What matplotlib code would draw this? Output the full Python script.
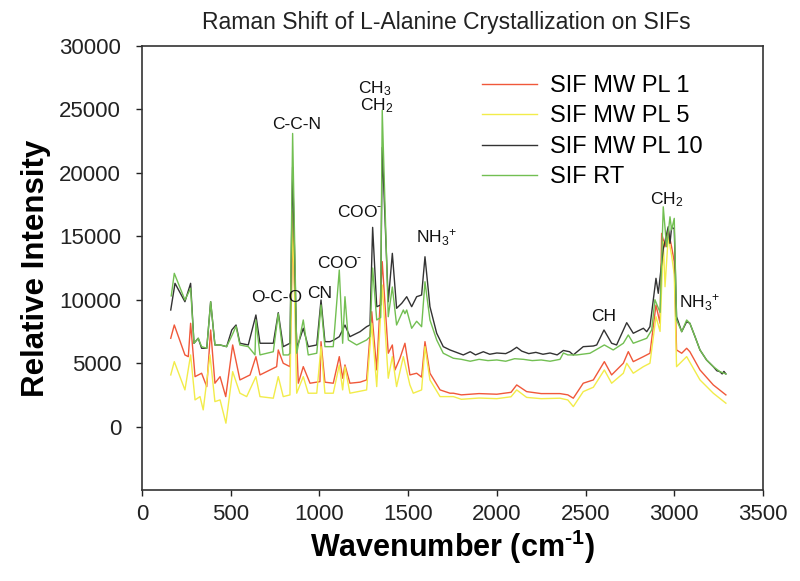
import matplotlib
matplotlib.use("Agg")
import matplotlib.pyplot as plt

plt.rcParams['font.family'] = ['Liberation Sans', 'DejaVu Sans']
plt.rcParams['mathtext.fontset'] = 'custom'
plt.rcParams['mathtext.rm'] = 'Liberation Sans'
plt.rcParams['mathtext.it'] = 'Liberation Sans:italic'
plt.rcParams['mathtext.bf'] = 'Liberation Sans:bold'

# SIF MW PL 10 (black)
wn_pl10 = [162, 186, 242, 274, 293, 317, 336, 365, 387, 411, 440, 477, 506, 530, 552,
           599, 642, 665, 740, 768, 796, 834, 849, 872, 909, 937, 985, 1009, 1031, 1060,
           1082, 1112, 1144, 1172, 1229, 1266, 1285, 1300, 1323, 1345, 1354, 1388, 1411,
           1435, 1464, 1492, 1520, 1548, 1576, 1595, 1623, 1661, 1698, 1736, 1811, 1850,
           1880, 1924, 1960, 2000, 2050, 2080, 2112, 2140, 2180, 2220, 2260, 2300, 2340,
           2375, 2410, 2431, 2487, 2544, 2563, 2604, 2647, 2675, 2732, 2769, 2826, 2845,
           2863, 2897, 2910, 2938, 2966, 2976, 2985, 3000, 3013, 3042, 3070, 3088, 3117,
           3145, 3182, 3220, 3240, 3257, 3270, 3280, 3291]
int_pl10 = [9189, 11291, 9843, 11291, 6567, 6961, 6173, 6173, 9843, 6433, 6433, 6299,
            7614, 8008, 6567, 6433, 8795, 6567, 6567, 8976, 6299, 6567, 20450, 6173, 7748,
            6299, 6433, 9976, 6693, 6693, 6827, 7087, 8000, 7087, 7480, 7874, 8008, 15700,
            9449, 9583, 22000, 9843, 13653, 9323, 9717, 10236, 9449, 10236, 10370, 13386,
            9449, 7354, 6299, 6039, 5646, 5900, 5650, 5900, 5700, 5800, 5750, 5950, 6250,
            5950, 5750, 5850, 5700, 5800, 5650, 6000, 5900, 5646, 6299, 6350, 6433, 7614,
            6567, 6433, 8189, 7354, 7748, 7480, 7874, 11685, 10504, 14000, 15748, 14441,
            15700, 15600, 8661, 7480, 8268, 8142, 7087, 6039, 5252, 4724, 4400, 4331, 4150,
            4350, 4150]

# SIF RT (green)
wn_rt = [165, 182, 242, 274, 293, 317, 336, 365, 387, 411, 440, 477, 511, 530,
         552, 599, 637, 642, 665, 740, 768, 796, 825, 834, 849, 872, 909, 937, 985, 1009,
         1031, 1078, 1112, 1131, 1144, 1163, 1210, 1266, 1285, 1300, 1323, 1345, 1354,
         1388, 1411, 1435, 1473, 1482, 1492, 1520, 1548, 1576, 1595, 1623, 1661, 1698,
         1755, 1800, 1850, 1900, 1950, 2000, 2050, 2100, 2150, 2200, 2250, 2300, 2356,
         2375, 2400, 2450, 2525, 2606, 2656, 2713, 2741, 2769, 2845, 2873, 2891, 2920,
         2938, 2957, 2976, 2985, 3000, 3013, 3042, 3070, 3088, 3117, 3145, 3182, 3220,
         3257, 3291]
int_rt = [10300, 12079, 9976, 10900, 6567, 6961, 6300, 6173, 9843, 6433, 6433,
          6300, 7300, 7900, 6433, 6300, 5650, 8400, 5650, 5900, 8900, 5646, 5646, 5780,
          23103, 5780, 8402, 5646, 5780, 9583, 6299, 6299, 12338, 6567, 10236, 6827, 6433,
          6827, 7087, 12500, 8402, 8600, 24937, 8661, 11000, 8008, 9189, 8900, 9189, 7748,
          8300, 7874, 11417, 8402, 6827, 5780, 5386, 5300, 5150, 5300, 5200, 5250, 5150,
          5350, 5300, 5200, 5250, 5150, 5300, 5800, 5650, 5646, 5780, 6433, 6039, 6567,
          7220, 6567, 6961, 7614, 10000, 9000, 17323, 14173, 16535, 15500, 16410, 8402,
          7480, 8400, 8142, 7087, 6039, 5252, 4724, 4331, 4150]

# SIF MW PL 1 (red)
wn_pl1 = [162, 182, 242, 261, 274, 299, 336, 365, 387, 411, 440, 472, 511, 552, 609, 642,
          665, 759, 768, 796, 834, 849, 881, 909, 947, 1003, 1009, 1031, 1078, 1112, 1131,
          1144, 1172, 1229, 1266, 1295, 1323, 1354, 1388, 1411, 1426, 1454, 1482, 1510,
          1548, 1576, 1595, 1623, 1680, 1736, 1755, 1800, 1900, 2000, 2080, 2112, 2168,
          2250, 2356, 2400, 2431, 2487, 2544, 2606, 2647, 2713, 2741, 2769, 2826, 2863,
          2897, 2920, 2929, 2948, 2966, 2985, 3000, 3013, 3042, 3070, 3088, 3145, 3220, 3291]
int_pl1 = [6961, 8008, 5646, 5512, 8142, 3937, 4205, 3150, 7614, 3417, 3937, 2362, 6433,
           3677, 4071, 5512, 4071, 4724, 6039, 4992, 4724, 15000, 3417, 4724, 3417, 3543,
           6693, 3500, 3417, 5512, 3811, 4858, 3417, 3500, 3677, 9055, 4464, 13000, 5780,
           6433, 4464, 5386, 6567, 4071, 4205, 3900, 6693, 4205, 2890, 2630, 2630, 2500,
           2600, 2550, 2700, 3283, 2756, 2600, 2600, 2500, 2236, 3417, 3677, 5118, 4071,
           4992, 5906, 5118, 5512, 5780, 9583, 8142, 15228, 14173, 15488, 14173, 13000,
           6039, 5780, 6173, 5900, 4464, 3283, 2496]

# SIF MW PL 5 (yellow)
wn_pl5 = [162, 182, 242, 274, 299, 327, 345, 383, 411, 440, 473, 511, 552, 590, 642, 665,
          740, 768, 796, 834, 849, 872, 909, 937, 985, 1009, 1031, 1078, 1112, 1131, 1144,
          1172, 1266, 1295, 1323, 1354, 1388, 1411, 1435, 1473, 1510, 1529, 1576, 1595,
          1623, 1680, 1755, 1800, 1900, 2000, 2080, 2112, 2168, 2250, 2356, 2400, 2431,
          2487, 2544, 2606, 2647, 2713, 2732, 2769, 2826, 2863, 2897, 2920, 2938, 2948,
          2966, 2985, 3000, 3013, 3070, 3145, 3220, 3291]
int_pl5 = [4071, 5118, 2890, 5646, 2102, 2362, 1315, 5646, 1969, 2102, 268, 4331, 2630,
           2362, 3937, 2362, 2236, 3937, 2362, 2496, 17000, 2630, 3937, 2630, 2630, 6300,
           2630, 2630, 4858, 2890, 4724, 2630, 2890, 8142, 3150, 11157, 3811, 5512, 3150,
           5512, 3283, 2630, 2890, 6299, 3677, 2362, 2362, 2150, 2250, 2200, 2350, 2890,
           2300, 2200, 2236, 2100, 1575, 2756, 3100, 4464, 3417, 4205, 4992, 4205, 4724,
           4992, 8661, 7500, 14567, 11024, 14961, 13500, 12000, 4724, 5512, 3677, 2630, 1843]

labels = ['SIF MW PL 1', 'SIF MW PL 5', 'SIF MW PL 10', 'SIF RT']
colors = ['#f0583a', '#f2ec4a', '#333333', '#72bf52']

# peak assignments: (label, wavenumber, intensity)
peak_labels = [
    ('C-C-N', 874, 23833),
    ('CH$_3$', 1313, 26670),
    ('CH$_2$', 1325, 25330),
    ('COO$^{‐}$', 1229, 16905),
    ('O-C-O', 761, 10213),
    ('CN', 1003, 10528),
    ('COO$^{‐}$', 1116, 12890),
    ('NH$_3$$^{+}$', 1663, 14858),
    ('CH', 2604, 8638),
    ('NH$_3$$^{+}$', 3145, 9740),
    ('CH$_2$', 2959, 17914),
]

fig = plt.figure(figsize=(8, 5.81), dpi=100)
ax = fig.add_axes([0.1775, 0.1566, 0.7762, 0.7643])

ax.plot(wn_pl1, int_pl1, color=colors[0], lw=1.0, label=labels[0])
ax.plot(wn_pl5, int_pl5, color=colors[1], lw=1.0, label=labels[1])
ax.plot(wn_pl10, int_pl10, color=colors[2], lw=1.0, label=labels[2])
ax.plot(wn_rt, int_rt, color=colors[3], lw=1.0, label=labels[3])

for txt, x, y in peak_labels:
    ax.text(x, y, txt, fontsize=12.5, ha='center', va='center', color='#111111')

ax.set_xlim(0, 3500)
ax.set_ylim(-5000, 30000)
ax.set_xticks(range(0, 3501, 500))
ax.set_yticks(range(0, 30001, 5000))
ax.tick_params(direction='out', length=4, width=1, labelsize=16, colors='#222222')
ax.tick_params(axis='x', pad=6)
ax.tick_params(axis='y', pad=11)
for s in ax.spines.values():
    s.set_linewidth(1.2)
    s.set_color('#333333')

ax.set_xlabel(r'Wavenumber (cm$^{\mathbf{‐1}}$)', fontsize=22, fontweight='bold', labelpad=2)
ax.set_ylabel('Relative Intensity', fontsize=22.5, fontweight='bold', labelpad=6)

fig.text(0.5575, 1 - 22 / 581, 'Raman Shift of L-Alanine Crystallization on SIFs',
         ha='center', va='center', fontsize=16.5, color='#222222')

ax.legend(loc='upper left', bbox_to_anchor=(0.548, 0.935), frameon=False, fontsize=17,
          handlelength=2.3, handletextpad=0.55, labelspacing=0.36, borderpad=0,
          borderaxespad=0)

fig.savefig('out.png', dpi=100)
